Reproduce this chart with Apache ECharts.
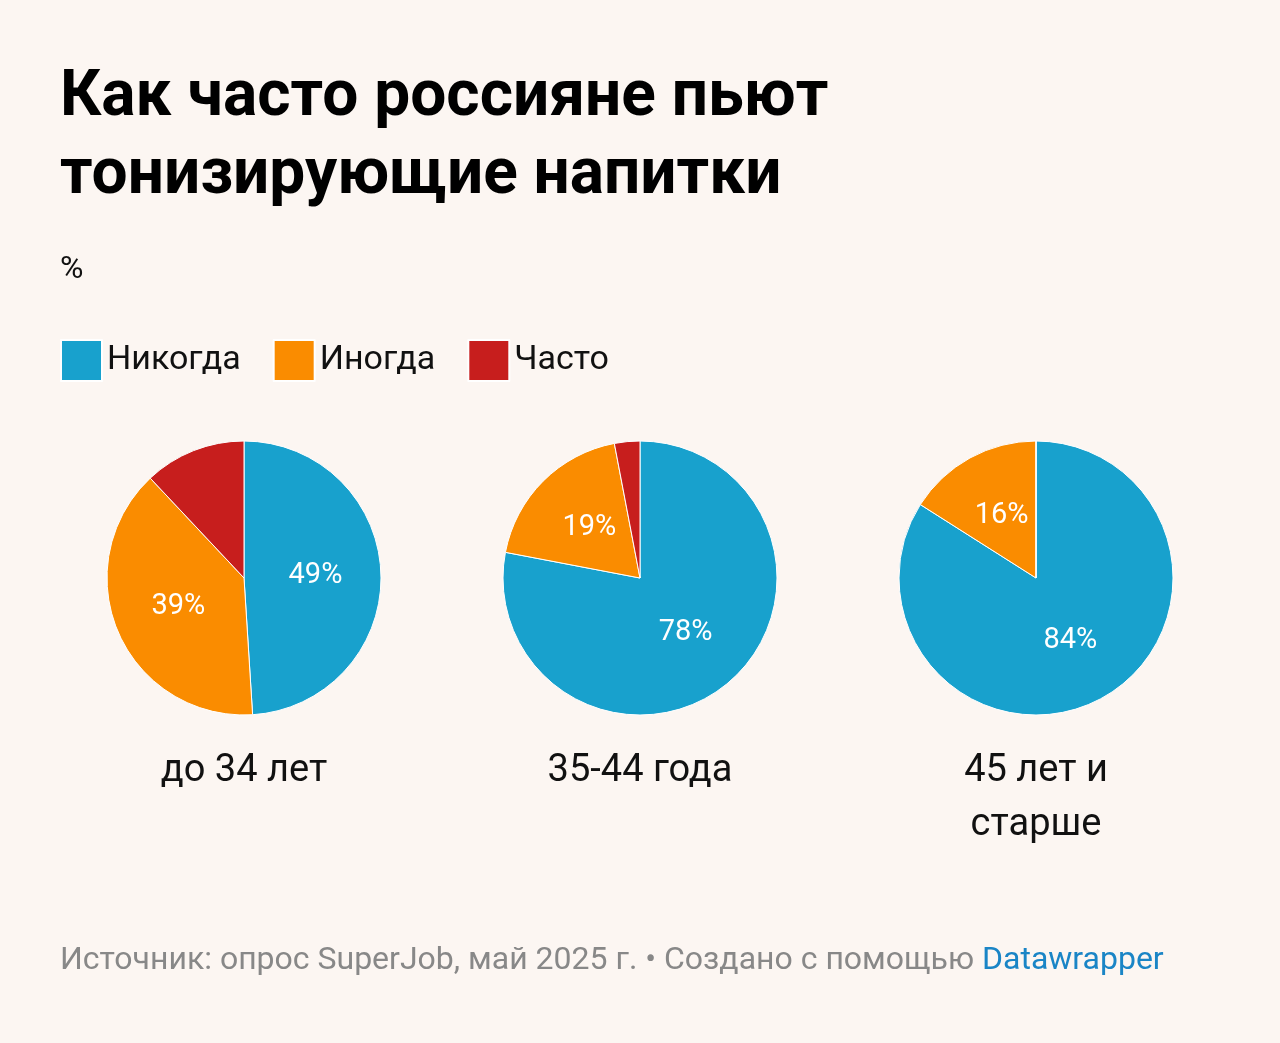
<!DOCTYPE html>
<html>
<head>
<meta charset="utf-8">
<script src="https://cdn.jsdelivr.net/npm/echarts@6/dist/echarts.min.js"></script>
<style>
  html, body { margin: 0; padding: 0; background: #fcf6f2; }
  #chart { width: 1280px; height: 1043px; }
</style>
</head>
<body>
<div id="chart"></div>
<script>
// данные
var categories = ['Никогда', 'Иногда', 'Часто'];
var groups = ['до 34 лет', '35-44 года', '45 лет и\nстарше'];
var young = [49, 39, 12];
var middle = [78, 19, 3];
var older = [84, 16, 0];
var colors = ['#18a1cd', '#fa8c00', '#c71e1d'];

var chart = echarts.init(document.getElementById('chart'));
var font = 'Roboto, "Noto Sans", sans-serif';
var centersX = [244, 640, 1036];
var allData = [young, middle, older];

var series = allData.map(function (vals, gi) {
  return {
    type: 'pie',
    center: [centersX[gi], 578],
    radius: [0, 137],
    startAngle: 90,
    clockwise: true,
    silent: true,
    itemStyle: { borderColor: '#ffffff', borderWidth: 1 },
    label: {
      show: true,
      position: 'inside',
      color: '#ffffff',
      fontSize: 29,
      fontFamily: font,
      formatter: function (p) { return p.value >= 10 && p.name !== 'Часто' ? p.value + '%' : ''; }
    },
    labelLine: { show: false },
    data: vals.map(function (v, i) { return { name: categories[i], value: v }; })
  };
});

var option = {
  backgroundColor: '#fcf6f2',
  color: colors,
  animation: false,
  title: [
    { text: 'Как часто россияне пьют\nтонизирующие напитки', left: 60, top: 60, padding: 0,
      textStyle: { fontSize: 64, fontWeight: 'bold', color: '#000', fontFamily: font, lineHeight: 78 } },
    { text: '%', left: 60, top: 254, padding: 0, textStyle: { fontSize: 32, fontWeight: 'normal', color: '#111', fontFamily: font } }
  ].concat(groups.map(function (g, gi) {
    return { text: g, left: centersX[gi], top: 744, textAlign: 'center', padding: 0,
      textStyle: { fontSize: 38, fontWeight: 'normal', color: '#111', fontFamily: font, lineHeight: 54 } };
  })).concat([
    { text: 'Источник: опрос SuperJob, май 2025 г. • Создано с помощью {b|Datawrapper}', left: 60, top: 945, padding: 0,
      textStyle: { fontSize: 32, fontWeight: 'normal', color: '#888', fontFamily: font,
        rich: { b: { fontSize: 32, color: '#1a85c6', fontFamily: font } } } }
  ]),
  legend: {
    left: 60, top: 339, padding: 0, itemWidth: 41, itemHeight: 41, itemGap: 32,
    icon: 'rect',
    data: categories,
    textStyle: { fontSize: 34, color: '#111', fontFamily: font, padding: [0, 0, 0, 0] },
    selectedMode: false
  },
  series: series
};
chart.setOption(option);
</script>
</body>
</html>
